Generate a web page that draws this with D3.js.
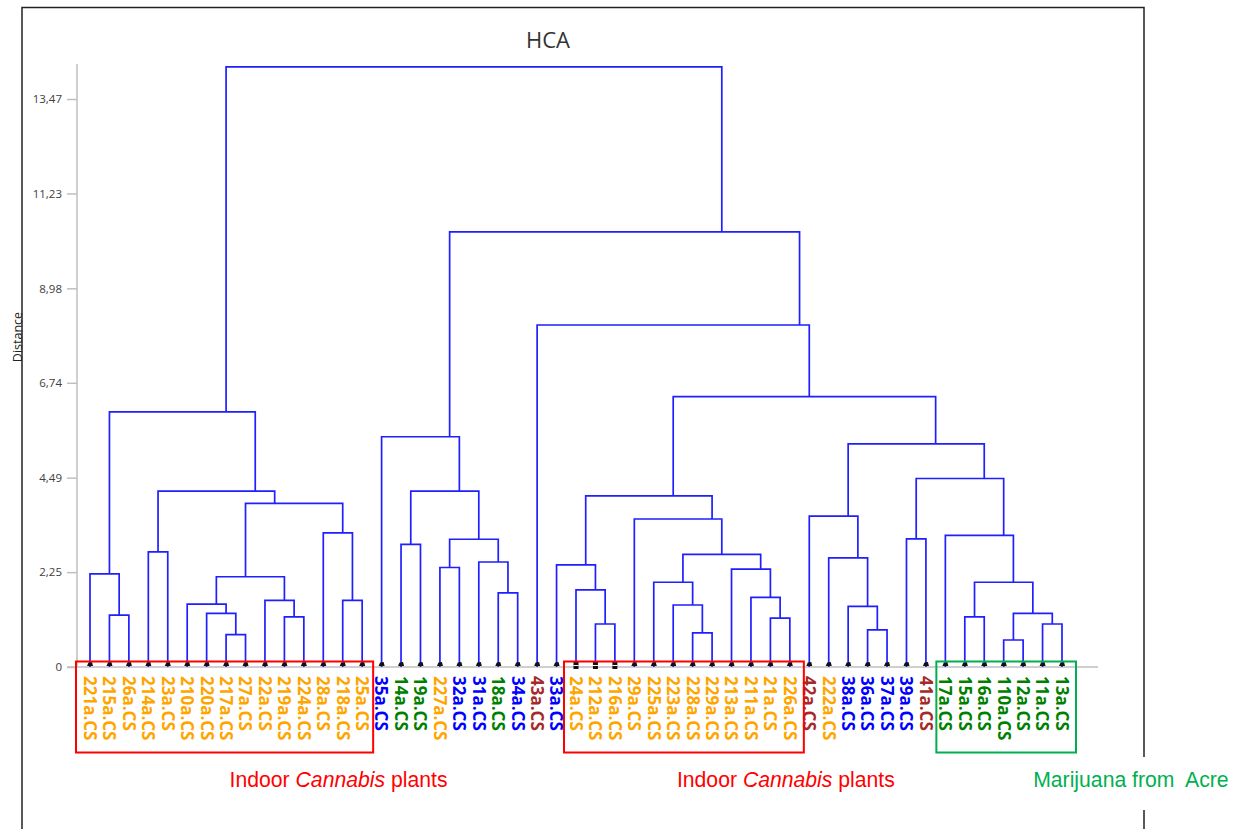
<!DOCTYPE html>
<html>
<head>
<meta charset="utf-8">
<script src="https://cdn.jsdelivr.net/npm/d3@7"></script>
<style>
  html, body { margin: 0; padding: 0; background: #fff; }
  svg { display: block; }
</style>
</head>
<body>
<script>
// ---------------- DATA ----------------
const leafLabels = ["221a.CS","215a.CS","26a.CS","214a.CS","23a.CS","210a.CS","220a.CS","217a.CS","27a.CS","22a.CS",
  "219a.CS","224a.CS","28a.CS","218a.CS","25a.CS","35a.CS","14a.CS","19a.CS","227a.CS","32a.CS",
  "31a.CS","18a.CS","34a.CS","43a.CS","33a.CS","24a.CS","212a.CS","216a.CS","29a.CS","225a.CS",
  "223a.CS","228a.CS","229a.CS","213a.CS","211a.CS","21a.CS","226a.CS","42a.CS","222a.CS","38a.CS",
  "36a.CS","37a.CS","39a.CS","41a.CS","17a.CS","15a.CS","16a.CS","110a.CS","12a.CS","11a.CS","13a.CS"];

// class of each leaf: O = indoor, B = blue group, G = green group, R = brown group
const leafClass = ["O","O","O","O","O","O","O","O","O","O",
  "O","O","O","O","O","B","G","G","O","B",
  "B","G","B","R","B","O","O","O","O","O",
  "O","O","O","O","O","O","O","R","O","B",
  "B","B","B","R","G","G","G","G","G","G","G"];

// leaves drawn with the alternate (square) marker
const altMarkerLeaves = ["24a.CS","212a.CS","216a.CS"];

// merges: [child A, child B, distance]; ids < 51 are leaves, id 51+k is merge k
const merges = [
  [1, 2, 1.23], [0, 51, 2.21], [3, 4, 2.73], [7, 8, 0.77], [6, 54, 1.27],
  [5, 55, 1.49], [10, 11, 1.19], [9, 57, 1.58], [56, 58, 2.14], [13, 14, 1.58],
  [12, 60, 3.18], [59, 61, 3.88], [53, 62, 4.17], [52, 63, 6.05],
  [16, 17, 2.91], [18, 19, 2.36], [21, 22, 1.76], [20, 67, 2.49], [66, 68, 3.03],
  [65, 69, 4.17], [15, 70, 5.46],
  [26, 27, 1.02], [25, 72, 1.83], [24, 73, 2.42], [31, 32, 0.81], [30, 75, 1.47],
  [29, 76, 2.01], [35, 36, 1.16], [34, 78, 1.65], [33, 79, 2.32], [77, 80, 2.67],
  [28, 81, 3.51], [74, 82, 4.06],
  [40, 41, 0.88], [39, 84, 1.44], [38, 85, 2.59], [37, 86, 3.58], [42, 43, 3.04],
  [47, 48, 0.64], [49, 50, 1.02], [89, 90, 1.27], [45, 46, 1.19], [92, 91, 2.01],
  [44, 93, 3.12], [88, 94, 4.47], [87, 95, 5.29], [83, 96, 6.41], [23, 97, 8.11],
  [71, 98, 10.32], [64, 99, 14.23]
];

const yTicks = [0, 2.25, 4.49, 6.74, 8.98, 11.23, 13.47];
const yTickLabels = ["0", "2,25", "4,49", "6,74", "8,98", "11,23", "13,47"];

const chartTitle = "HCA";
const yTitle = "Distance";

const annotations = [
  { first: "221a.CS", last: "25a.CS",  parts: [["Indoor ", false], ["Cannabis", true], [" plants", false]], color: "#ff0000" },
  { first: "24a.CS",  last: "226a.CS", parts: [["Indoor ", false], ["Cannabis", true], [" plants", false]], color: "#ff0000" },
  { first: "17a.CS",  last: "13a.CS",  parts: [["Marijuana from  Acre", false]], color: "#00b050" }
];

// ---------------- STYLE ----------------
const classColor = { O: "#ffa500", B: "#0000ff", G: "#008000", R: "#a52a2a" };
const W = 1248, H = 829;

const svg = d3.select("body").append("svg").attr("width", W).attr("height", H);

const x = d3.scalePoint().domain(d3.range(leafLabels.length)).range([90, 1062]);
const y = d3.scaleLinear().domain([0, 13.47]).range([667, 99]);

// frame
const frame = svg.append("g").attr("stroke", "#222").attr("stroke-width", 1.5).attr("fill", "none");
frame.append("path").attr("d", `M22,829V7.5H1144V829`);

// title
svg.append("text").attr("x", 548).attr("y", 48).attr("text-anchor", "middle")
  .attr("font-family", "Open Sans, sans-serif").attr("font-size", 22).attr("fill", "#333")
  .text(chartTitle);

// y axis
const axisX = 77;
const axisG = svg.append("g").attr("transform", `translate(${axisX},0)`)
  .call(d3.axisLeft(y).tickValues(yTicks).tickFormat((d, i) => yTickLabels[i]).tickSize(10).tickPadding(5));
axisG.select(".domain").remove();
axisG.selectAll(".tick line").attr("stroke", "#bfbfbf").attr("stroke-width", 1.5);
axisG.selectAll(".tick text").attr("fill", "#404040").attr("font-size", 11.5)
  .attr("font-family", "Open Sans, sans-serif");
svg.append("line").attr("x1", axisX).attr("x2", axisX).attr("y1", y(0)).attr("y2", y(14.3))
  .attr("stroke", "#bfbfbf").attr("stroke-width", 1.5);
svg.append("line").attr("x1", 67).attr("x2", 1098).attr("y1", y(0)).attr("y2", y(0))
  .attr("stroke", "#bfbfbf").attr("stroke-width", 1.5);

svg.append("text").attr("transform", `translate(22,337) rotate(-90)`).attr("text-anchor", "middle")
  .attr("font-family", "Open Sans, sans-serif").attr("font-size", 12.5).attr("fill", "#222")
  .text(yTitle);

// build nodes
const n = leafLabels.length;
const nodes = leafLabels.map((l, i) => ({ x: x(i), h: 0, sum: x(i), count: 1 }));
merges.forEach(([a, b, h]) => {
  const A = nodes[a], B = nodes[b];
  const sum = A.sum + B.sum, count = A.count + B.count;
  nodes.push({ x: sum / count, h, sum, count, a: A, b: B });
});

// dendrogram links
svg.append("g").attr("fill", "none").attr("stroke", "#1f1fff").attr("stroke-width", 1.7)
  .selectAll("path").data(nodes.slice(n)).join("path")
  .attr("d", d => `M${d.a.x},${y(d.a.h)}V${y(d.h)}H${d.b.x}V${y(d.b.h)}`);

// leaf markers
const mk = svg.append("g");
leafLabels.forEach((l, i) => {
  const cx = x(i), cy = y(0);
  if (altMarkerLeaves.includes(l)) {
    mk.append("rect").attr("x", cx - 2.5).attr("y", cy - 5).attr("width", 5).attr("height", 7).attr("fill", "#111");
    mk.append("line").attr("x1", cx - 2.5).attr("x2", cx + 2.5).attr("y1", cy - 1.5).attr("y2", cy - 1.5)
      .attr("stroke", "#fff").attr("stroke-width", 1);
  } else {
    mk.append("path").attr("d", `M${cx - 3},${cy - 1}L${cx - 1.5},${cy - 4.5}L${cx + 2},${cy - 5}L${cx + 3},${cy - 1}Z`)
      .attr("fill", "#111");
  }
});

// leaf labels
svg.append("g").selectAll("text").data(leafLabels).join("text")
  .attr("transform", (d, i) => `translate(${x(i)},676) rotate(90)`)
  .attr("dy", "0.36em")
  .attr("font-family", "Open Sans, sans-serif").attr("font-weight", "bold").attr("font-size", 17)
  .attr("fill", (d, i) => classColor[leafClass[i]])
  .text(d => d);

// annotation boxes and captions
const padL = [14, 12, 9], padR = [11, 14, 14];
const textShift = [5, -7, 27];
annotations.forEach((an, k) => {
  const i0 = leafLabels.indexOf(an.first), i1 = leafLabels.indexOf(an.last);
  const x0 = x(i0) - padL[k], x1 = x(i1) + padR[k];
  svg.append("rect").attr("x", x0).attr("y", 661.5).attr("width", x1 - x0).attr("height", 91)
    .attr("fill", "none").attr("stroke", an.color).attr("stroke-width", 2);
  const tx = (x0 + x1) / 2 + textShift[k];
  const t = svg.append("text").attr("x", tx).attr("y", 787)
    .attr("font-family", "Liberation Sans, Arial, sans-serif").attr("font-size", 21.2)
    .attr("fill", an.color).style("white-space", "pre");
  an.parts.forEach(([s, it]) => t.append("tspan").attr("font-style", it ? "italic" : "normal").text(s));
  if (k === annotations.length - 1) {
    const bb = t.node().getBBox();
    svg.insert("rect", "text").attr("x", bb.x - 4).attr("y", 757).attr("width", bb.width + 8).attr("height", 53)
      .attr("fill", "#fff");
  }
});
</script>
</body>
</html>
